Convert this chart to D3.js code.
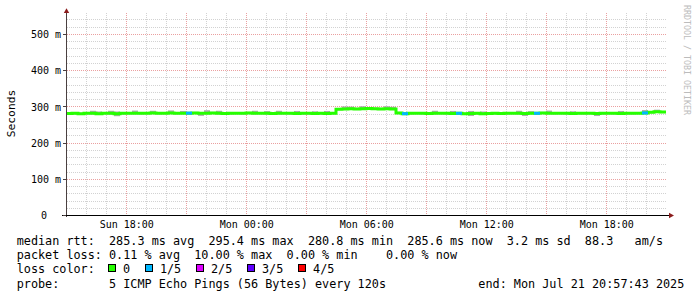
<!DOCTYPE html>
<html><head><meta charset="utf-8">
<script src="https://cdn.jsdelivr.net/npm/d3@7"></script>
<style>
html,body{margin:0;padding:0;background:#fff;}
svg{display:block;font-family:"DejaVu Sans Mono",monospace;}
text{white-space:pre;}
</style>
</head><body><svg id="c" width="697" height="297"></svg>
<script>
// ---------- data ----------
const endTime = new Date(2025, 6, 21, 20, 57, 43);
const spanHours = 30;
const stepMinutes = 18;
const medians = [
 281.5,282,280.5,282.5,282,281,282.5,282,281,282,
 282.5,282.5,282,282.5,283,282,282.5,283,282,282.5,
 282.5,283,282,282.5,283,282,281.5,282,282.5,282,
 283,282,282.5,282,281.5,282,282.5,282,281.5,282,
 282,281.5,282,281.5,282.5,293.5,294,294.5,294,294.5,
 295,294.5,294,294.5,294,283,281,282,282.5,282,
 281.5,282,282.5,282,281.5,282,281,281.5,282,281,
 281.5,282,281.5,282,282.5,282,281.5,282,282,283,
 282.5,282,282.5,282,281.5,282,282,282.5,281.5,282,
 282.5,282,281.5,282,282,282.5,283,285,286,285.5];
const lossCounts = [
 0,0,0,0,0,0,0,0,0,0, 0,0,0,0,0,0,0,0,0,0,
 1,0,0,0,0,0,0,0,0,0, 0,0,0,0,0,0,0,0,0,0,
 0,0,0,0,0,0,0,0,0,0, 0,0,0,0,0,0,1,0,0,0,
 0,0,0,0,0,1,0,0,0,0, 0,0,0,0,0,0,0,0,1,0,
 0,0,0,0,0,0,0,0,0,0, 0,0,0,0,0,0,1,0,0,0];
const smokeUp = [
 3,3,3,3,7,6,3,7,6,3, 3,7,3,3,6,3,3,7,3,6,
 3,3,3,8,3,7,3,3,3,3, 3,7,3,6,3,7,3,3,7,3,
 3,6,3,7,3,3,7,6,3,7, 3,3,3,7,6,3,3,3,3,3,
 3,7,3,3,7,3,3,7,3,6, 3,3,3,3,3,7,3,6,3,3,
 7,3,3,3,6,3,3,3,3,3, 3,3,7,3,3,3,8,3,6,3];
const smokeDown = [
 3,3,3,3,3,3,3,3,7,3, 3,3,3,3,3,3,3,3,3,3,
 3,3,7,3,3,3,3,3,3,3, 3,3,3,3,3,3,3,3,3,3,
 3,3,3,3,3,3,3,3,3,3, 3,3,3,3,3,3,3,3,3,3,
 3,3,3,3,3,3,3,7,3,3, 3,3,3,3,3,3,7,3,3,3,
 3,3,3,3,3,3,3,3,7,3, 3,3,3,3,3,3,3,3,3,3];
const yMax = 558.8;
const yMajorTicks = [0, 100, 200, 300, 400, 500];
const yTickLabels = ["0", "100 m", "200 m", "300 m", "400 m", "500 m"];
const yMinorStep = 20;
const lossLabels = ["0", "1/5", "2/5", "3/5", "4/5"];
const lossColors = ["#26ff00", "#00b8ff", "#dd00ff", "#5e00ff", "#ff0000"];
const yAxisTitle = "Seconds";
const watermark = "RRDTOOL / TOBI OETIKER";
const legendLines = [
 "median rtt:  285.3 ms avg  295.4 ms max  280.8 ms min  285.6 ms now  3.2 ms sd  88.3   am/s",
 "packet loss: 0.11 % avg  10.00 % max  0.00 % min    0.00 % now",
 "loss color:",
 "probe:       5 ICMP Echo Pings (56 Bytes) every 120s             end: Mon Jul 21 20:57:43 2025"
];

// ---------- drawing ----------
const svg = d3.select("#c");
const startTime = new Date(endTime.getTime() - spanHours * 3600e3);
const x = d3.scaleTime().domain([startTime, endTime]).range([66, 666]);
const y = d3.scaleLinear().domain([0, yMax]).range([215.5, 13]);
const px = v => Math.floor(v) + 0.5;

const g = svg.append("g");
const grid = g.append("g").attr("shape-rendering", "crispEdges");
// vertical grid
x.ticks(d3.timeHour.every(1)).forEach(t => {
  const major = t.getHours() % 3 === 0;
  grid.append("line").attr("x1", px(x(t))).attr("x2", px(x(t)))
    .attr("y1", 13).attr("y2", 215)
    .attr("stroke", major ? "#eaa0a0" : "#d2d2d2")
    .attr("stroke-dasharray", "1,1");
});
// horizontal grid
d3.range(yMinorStep, yMax, yMinorStep).forEach(v => {
  const major = v % 100 === 0;
  grid.append("line").attr("x1", 67).attr("x2", 667)
    .attr("y1", px(y(v))).attr("y2", px(y(v)))
    .attr("stroke", major ? "#eaa0a0" : "#d2d2d2")
    .attr("stroke-dasharray", "1,1");
});

// data points
const pts = medians.map((m, i) => ({
  t0: new Date(startTime.getTime() + i * stepMinutes * 60e3),
  t1: new Date(startTime.getTime() + (i + 1) * stepMinutes * 60e3),
  m, loss: lossCounts[i], up: smokeUp[i], down: smokeDown[i]
}));

// smoke
g.append("g").selectAll("rect").data(pts).join("rect")
  .attr("x", d => x(d.t0)).attr("width", d => x(d.t1) - x(d.t0))
  .attr("y", d => y(d.m + d.up)).attr("height", d => y(d.m - d.down) - y(d.m + d.up))
  .attr("fill", "#acacac");

// median line (step)
const stepPts = pts.map(d => [x(d.t0), y(d.m)]);
stepPts.push([x(pts[pts.length - 1].t1), y(pts[pts.length - 1].m)]);
g.append("path").attr("d", d3.line().curve(d3.curveStepAfter)(stepPts))
  .attr("fill", "none").attr("stroke", lossColors[0]).attr("stroke-width", 3);
// loss-colored segments
g.append("g").selectAll("line").data(pts.filter(d => d.loss > 0)).join("line")
  .attr("x1", d => x(d.t0)).attr("x2", d => x(d.t1))
  .attr("y1", d => y(d.m)).attr("y2", d => y(d.m))
  .attr("stroke", d => lossColors[d.loss]).attr("stroke-width", 3);

// axes
const ax = g.append("g").attr("shape-rendering", "crispEdges");
ax.append("line").attr("x1", 66.5).attr("x2", 66.5).attr("y1", 217).attr("y2", 12).attr("stroke", "#4a4040");
ax.append("line").attr("x1", 62).attr("x2", 669).attr("y1", 215.5).attr("y2", 215.5).attr("stroke", "#000");
yMajorTicks.forEach(v => {
  ax.append("line").attr("x1", 63).attr("x2", 66).attr("y1", px(y(v))).attr("y2", px(y(v))).attr("stroke", "#4a4040");
});
g.append("path").attr("d", "M63.8,13 L66.5,8.3 L69.2,13 Z").attr("fill", "#8b1c1c");
g.append("path").attr("d", "M669,212.7 L674,215.5 L669,218.3 Z").attr("fill", "#8b1c1c");

// y labels
g.append("g").selectAll("text").data(yMajorTicks).join("text")
  .attr("x", (d, i) => i === 0 ? 47 : 61)
  .attr("y", d => y(d) + 3.8)
  .attr("text-anchor", "end").attr("font-size", 10).attr("fill", "#000")
  .text((d, i) => yTickLabels[i]);

// x labels
const fmt = d3.timeFormat("%a %H:%M");
g.append("g").selectAll("text").data(x.ticks(d3.timeHour.every(6))).join("text")
  .attr("x", d => x(d)).attr("y", 228)
  .attr("text-anchor", "middle").attr("font-size", 10).attr("fill", "#000")
  .text(d => fmt(d));

// y axis title
svg.append("text").attr("transform", "translate(15,113.5) rotate(-90)")
  .attr("text-anchor", "middle").attr("font-size", 11.3).attr("fill", "#000").text(yAxisTitle);

// watermark
svg.append("text").attr("transform", "translate(684,5) rotate(90)")
  .attr("font-size", 8.3).attr("fill", "#bcbcbc").text(watermark);

// legend
const cw = 7.09, lx = 16.7, baseY = 245, lineH = 14.2;
legendLines.forEach((s, i) => {
  svg.append("text").attr("x", lx).attr("y", baseY + i * lineH)
    .attr("font-size", 11.8).attr("fill", "#000").text(s);
});
let cursor = lx + 12.9 * cw;
lossLabels.forEach((lab, i) => {
  svg.append("rect").attr("x", Math.round(cursor) + 0.5).attr("y", 264.5)
    .attr("width", 7).attr("height", 7).attr("fill", lossColors[i])
    .attr("stroke", "#000").attr("shape-rendering", "crispEdges");
  svg.append("text").attr("x", cursor + 2.1 * cw).attr("y", baseY + 2 * lineH)
    .attr("font-size", 11.8).attr("fill", "#000").text(lab);
  cursor += (2.1 + lab.length + 2.1) * cw;
});
</script>
</body></html>
